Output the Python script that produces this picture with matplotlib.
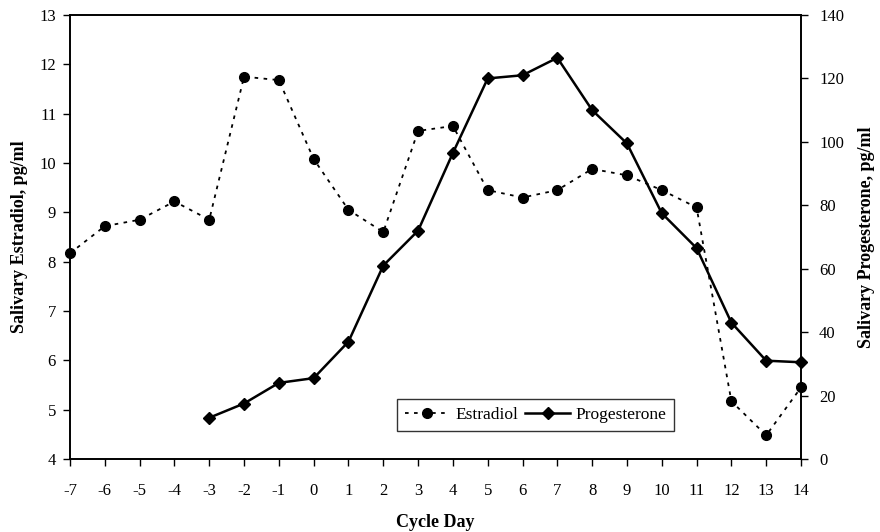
import matplotlib
matplotlib.use("Agg")
import matplotlib.pyplot as plt

plt.rcParams['font.family'] = ['Liberation Serif', 'DejaVu Serif']
plt.rcParams['axes.unicode_minus'] = False

days = list(range(-7, 15))
estradiol = [8.17, 8.72, 8.85, 9.22, 8.85, 11.75, 11.68, 10.08, 9.05, 8.6,
             10.65, 10.75, 9.45, 9.3, 9.45, 9.88, 9.75, 9.45, 9.1, 5.17, 4.48, 5.45]
prog_days = list(range(-3, 15))
progesterone = [13.0, 17.5, 24.0, 25.5, 37.0, 61.0, 72.0, 96.5, 120.0, 121.0,
                126.5, 110.0, 99.5, 77.5, 66.5, 43.0, 31.0, 30.5]

fig = plt.figure(figsize=(8.8, 5.32), dpi=100)
ax = fig.add_axes([70/880, 1-459/532, (801-70)/880, (459-15)/532])
ax2 = ax.twinx()

l1, = ax.plot(days, estradiol, linestyle=(0, (2, 3)), color='black', lw=1.3,
              marker='o', markersize=7, label='Estradiol', clip_on=False, zorder=3)
l2, = ax2.plot(prog_days, progesterone, linestyle='-', color='black', lw=1.8,
               marker='D', markersize=6, label='Progesterone', clip_on=False, zorder=3)

ax.set_xlim(-7, 14)
ax.set_ylim(4, 13)
ax2.set_ylim(0, 140)
ax.set_xticks(days)
ax.set_yticks(range(4, 14))
ax2.set_yticks(range(0, 141, 20))

for a in (ax, ax2):
    a.tick_params(direction='out', length=5, width=1, labelsize=12, color='black', pad=5)
    for s in a.spines.values():
        s.set_linewidth(1.2)
ax.tick_params(axis='x', pad=12)
ax2.tick_params(axis='y', pad=8)

ax.set_xlabel('Cycle Day', fontsize=13, fontweight='bold', labelpad=11)
ax.set_ylabel('Salivary Estradiol, pg/ml', fontsize=13, fontweight='bold', labelpad=8)
ax2.set_ylabel('Salivary Progesterone, pg/ml', fontsize=13, fontweight='bold', labelpad=10)

leg = ax.legend(handles=[l1, l2], loc='lower left', bbox_to_anchor=((397-70)/731, (459-431)/444),
                ncol=2, frameon=True, fancybox=False, edgecolor='black', fontsize=12.5,
                handlelength=2.6, columnspacing=0.4, handletextpad=0.3, borderpad=0.45,
                borderaxespad=0)
leg.get_frame().set_linewidth(1.0)

fig.savefig('out.png', dpi=100)
